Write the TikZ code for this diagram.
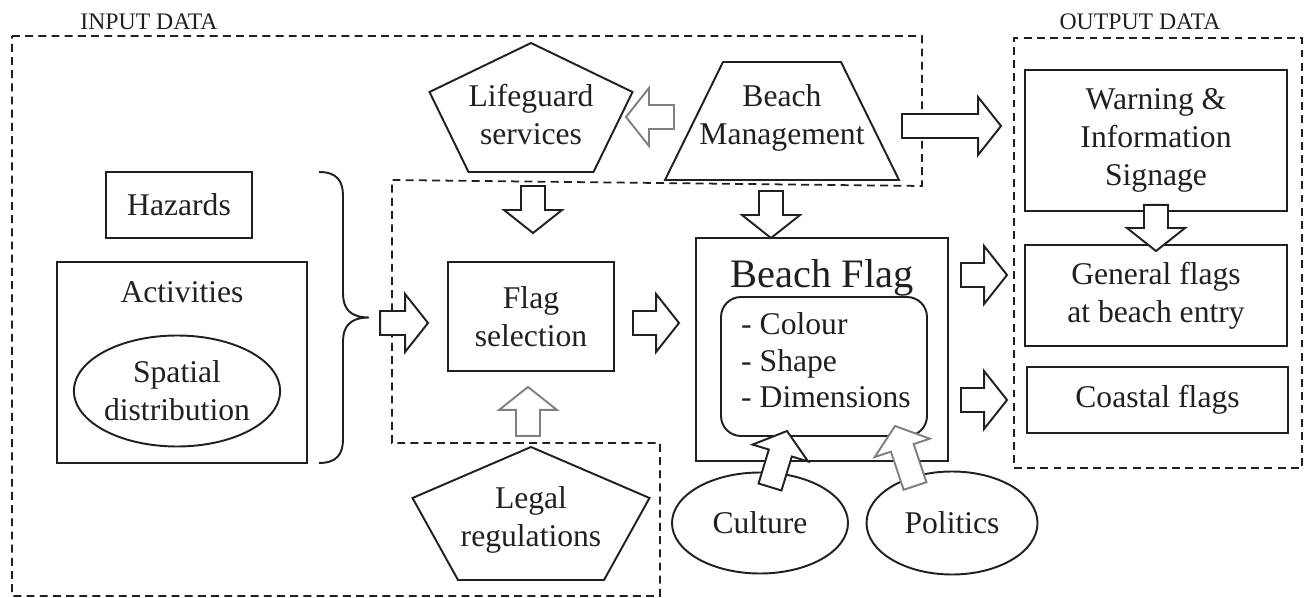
\documentclass[tikz,border=0pt]{standalone}
\usepackage{fontspec}
\setmainfont{Liberation Serif}
\usetikzlibrary{positioning, calc, shapes.geometric}
\definecolor{inkcolor}{HTML}{231F20}
\newcommand{\bodyfont}{\fontsize{18}{21.6}\selectfont}
\newcommand{\shaftw}{0.24cm}
\newcommand{\headw}{0.58cm}
\newcommand{\headlen}{0.46cm}
\newcommand{\blockarrow}[3][]{%
  \draw[fatarrow,#1] let \p1=#2, \p2=#3,
      \n1={atan2(\y2-\y1,\x2-\x1)}, \n3={\n1+90}, \n4={\n1-90},
      \n2={veclen(\x2-\x1,\y2-\y1)-\headlen} in
    ($(\p1)+(\n3:\shaftw)$) -- ($(\p1)+(\n1:\n2)+(\n3:\shaftw)$)
    -- ($(\p1)+(\n1:\n2)+(\n3:\headw)$) -- (\p2)
    -- ($(\p1)+(\n1:\n2)+(\n4:\headw)$)
    -- ($(\p1)+(\n1:\n2)+(\n4:\shaftw)$)
    -- ($(\p1)+(\n4:\shaftw)$) -- cycle;%
}

\begin{document}
\begin{tikzpicture}[
    % Node styles
    boxnode/.style={
        rectangle, draw=inkcolor, line width=1.1pt,
        text=inkcolor, font=\bodyfont, align=center, inner sep=0pt
    },
    ovalnode/.style={
        ellipse, draw=inkcolor, line width=1.1pt,
        text=inkcolor, font=\bodyfont, align=center, inner sep=0pt
    },
    textnode/.style={
        text=inkcolor, font=\bodyfont, align=center, inner sep=0pt
    },
    % Outline styles
    shapeoutline/.style={
        draw=inkcolor, line width=1.1pt, line join=miter
    },
    dashregion/.style={
        draw=inkcolor, line width=1pt, dash pattern=on 4.5pt off 3pt
    },
    bracepath/.style={
        draw=inkcolor, line width=1.1pt
    },
    % Arrow styles
    fatarrow/.style={
        draw=inkcolor, fill=white, line width=1.1pt, line join=miter
    },
    fadedarrow/.style={
        draw=black!50
    },
    % Label styles
    regionlabel/.style={
        font=\fontsize{13.5}{16}\selectfont, text=inkcolor, inner sep=0pt
    }
]
\useasboundingbox (0,0) rectangle (26.1,-11.96);

% ============ REGIONS ============
\draw[dashregion] (0.24,-0.72) -- (18.44,-0.72) -- (18.44,-3.72) -- (7.84,-3.60)
    -- (7.84,-8.86) -- (13.2,-8.86) -- (13.2,-11.92) -- (0.24,-11.92) -- cycle;
\node[dashregion, rectangle, minimum width=5.76cm, minimum height=8.6cm, inner sep=0pt]
    (outregion) at (23.16,-5.06) {};

\node[regionlabel] (inlabel) at (2.98,-0.44) {INPUT DATA};
\node[regionlabel] (outlabel) at (22.8,-0.44) {OUTPUT DATA};

% ============ HAZARDS AND ACTIVITIES ============
\node[boxnode, minimum width=2.92cm, minimum height=1.32cm] (hazards) at (3.58,-4.10) {Hazards};
\node[boxnode, minimum width=5cm, minimum height=4.02cm] (activities) at (3.64,-7.25) {};
\node[textnode, below=0.4cm of activities.north] (acttitle) {Activities};
\node[ovalnode, minimum width=3.88cm, minimum height=2.22cm] (spatial) at (3.54,-7.82) {Spatial\\distribution};

\draw[bracepath] (6.38,-3.44) .. controls (6.74,-3.44) and (6.86,-3.62) .. (6.86,-3.92)
    -- (6.86,-5.87) .. controls (6.86,-6.17) and (7.0,-6.35) .. (7.38,-6.35)
    .. controls (7.0,-6.35) and (6.86,-6.53) .. (6.86,-6.83)
    -- (6.86,-8.78) .. controls (6.86,-9.08) and (6.74,-9.26) .. (6.38,-9.26);

% ============ LIFEGUARD, MANAGEMENT, LEGAL ============
\node[textnode] (lifeguard) at (10.62,-2.30) {Lifeguard\\services};
\draw[shapeoutline, shift={(lifeguard.center)}] (0,1.44) -- (2.03,0.46) -- (1.25,-1.14)
    -- (-1.25,-1.14) -- (-2.03,0.46) -- cycle;

\node[textnode] (beachmgmt) at (15.64,-2.36) {Beach\\Management};
\draw[shapeoutline, shift={(beachmgmt.center)}] (-1.18,1.12) -- (1.18,1.12)
    -- (2.34,-1.24) -- (-2.34,-1.24) -- cycle;

\node[textnode] (legal) at (10.62,-10.40) {Legal\\regulations};
\draw[shapeoutline, shift={(legal.center)}] (0,1.46) -- (2.37,0.44) -- (1.46,-1.2)
    -- (-1.46,-1.2) -- (-2.37,0.44) -- cycle;

% ============ FLAG SELECTION AND BEACH FLAG ============
\node[boxnode, minimum width=3.32cm, minimum height=2.18cm] (flagsel) at (10.62,-6.33) {Flag\\selection};

\node[boxnode, minimum width=5.04cm, minimum height=4.46cm] (beachflag) at (16.44,-6.99) {};
\node[textnode, font=\fontsize{23}{27}\selectfont, below=0.44cm of beachflag.north] (flagtitle) {Beach Flag};
\node[boxnode, rounded corners=0.4cm, minimum width=4.12cm, minimum height=2.78cm] (attrs) at (16.48,-7.33) {};
\node[textnode, align=left, font=\fontsize{18}{20.8}\selectfont] (attrlist)
    at ($(attrs.center)+(0.04,0.12)$) {- Colour\\- Shape\\- Dimensions};

\node[ovalnode, minimum width=3.52cm, minimum height=2.02cm] (culture) at (15.2,-10.46) {Culture};
\node[ovalnode, minimum width=3.42cm, minimum height=2.06cm] (politics) at (19.04,-10.46) {Politics};

% ============ OUTPUT DATA ============
\node[boxnode, minimum width=5.24cm, minimum height=2.82cm] (warning) at (23.12,-2.81) {Warning \&\\Information\\Signage};
\node[boxnode, minimum width=5.24cm, minimum height=2.02cm] (general) at (23.12,-5.91) {General flags\\at beach entry};
\node[boxnode, minimum width=5.22cm, minimum height=1.32cm] (coastal) at (23.15,-8.0) {Coastal flags};

% ============ ARROWS ============
% Inputs to flag selection
\blockarrow{($(flagsel.west)+(-1.34,-0.13)$)}{($(flagsel.west)+(-0.38,-0.13)$)}
\blockarrow{($(flagsel.north)+(0.04,1.5)$)}{($(flagsel.north)+(0.04,0.56)$)}
\blockarrow[fadedarrow]{($(flagsel.south)+(-0.06,-1.28)$)}{($(flagsel.south)+(-0.06,-0.3)$)}
\blockarrow{($(flagsel.east)+(0.36,-0.13)$)}{($(beachflag.west)+(-0.32,0.53)$)}

% Beach management
\blockarrow[fadedarrow]{($(lifeguard.center)+(2.86,-0.04)$)}{($(lifeguard.center)+(1.9,-0.04)$)}
\blockarrow{($(beachflag.north)+(-1.02,0.92)$)}{($(beachflag.north)+(-1.02,-0.02)$)}
\blockarrow{($(beachmgmt.center)+(2.4,-0.16)$)}{($(warning.west)+(-0.46,0.29)$)}

% Beach flag to outputs
\blockarrow{($(beachflag.east)+(0.24,1.49)$)}{($(general.west)+(-0.34,0.41)$)}
\blockarrow{($(beachflag.east)+(0.24,-1.01)$)}{($(coastal.west)+(-0.38,0)$)}
\blockarrow{($(warning.south)+(0,0.14)$)}{($(general.north)+(0,-0.14)$)}

% Culture and politics
\blockarrow{($(culture.center)+(0.2,0.72)$)}{($(attrs.center)+(-0.74,-1.29)$)}
\blockarrow[fadedarrow]{($(politics.center)+(-0.74,0.74)$)}{($(attrs.center)+(1.42,-1.19)$)}

\end{tikzpicture}
\end{document}
